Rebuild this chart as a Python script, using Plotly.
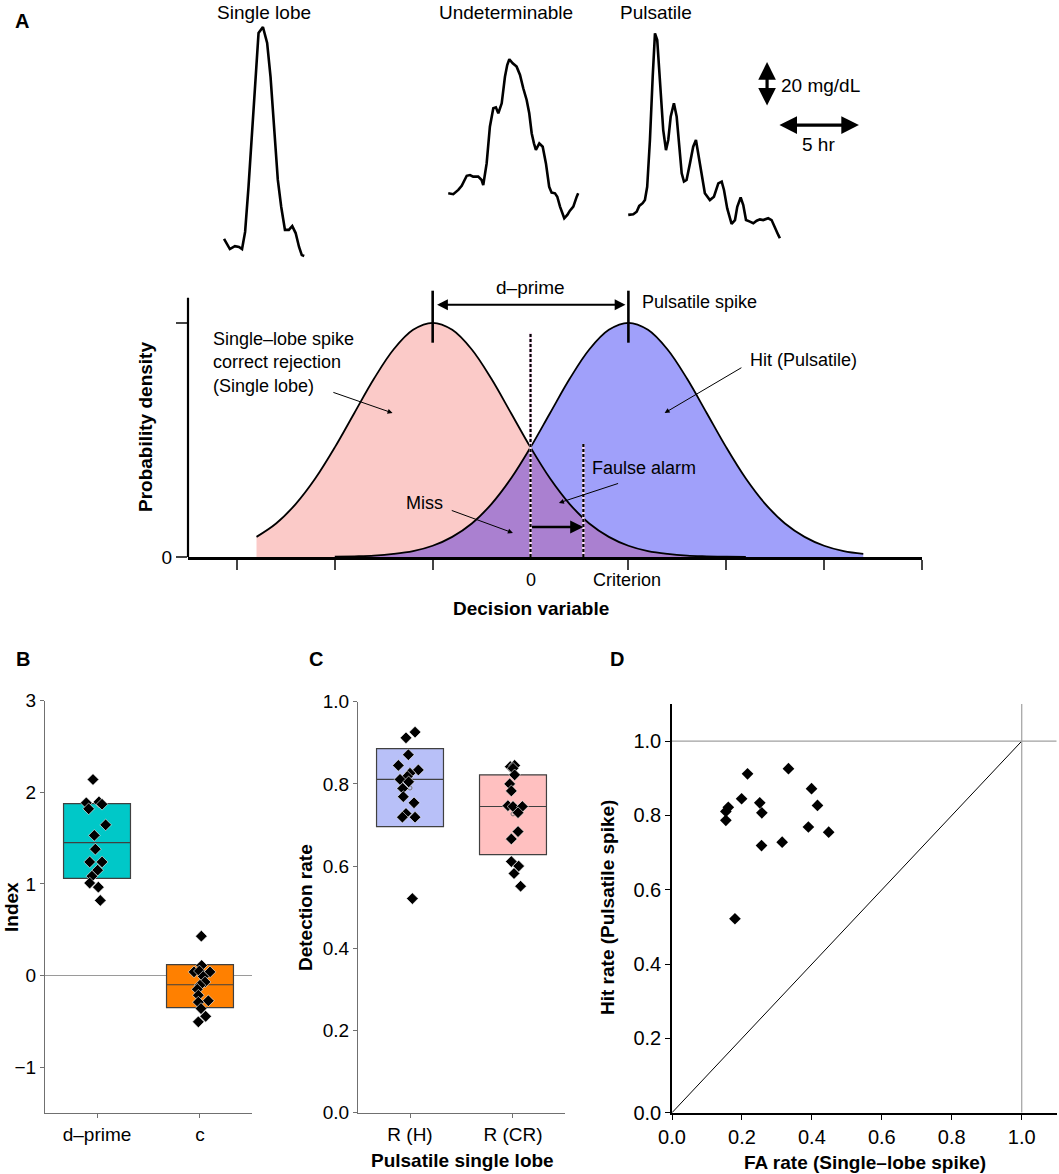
import plotly.graph_objects as go

FONT = 'Liberation Sans, Arial, sans-serif'
W, H = 1059, 1174

# ---- panel A (top): example glucose traces, hours from trace start / mg/dL above trace minimum
single_t = [0, 0.36, 0.67, 0.92, 1.11, 1.30, 1.51, 1.72, 1.92, 2.13, 2.40, 2.66, 2.87, 3.11, 3.32, 3.53,
            3.76, 4.00, 4.21, 4.42, 4.63, 4.80, 4.95]
single_g = [7.6, 3.1, 4.4, 4.0, 3.1, 10.7, 30.7, 54.7, 79.6, 99.1, 101.8, 94.7, 79.6, 54.7, 33.8, 21.8,
            11.6, 11.6, 13.3, 10.2, 4.0, 0.4, 0.0]
undet_t = [0, 0.31, 0.62, 0.83, 1.14, 1.34, 1.54, 1.85, 2.06, 2.16, 2.37, 2.57, 2.78, 2.94, 3.09, 3.30,
           3.50, 3.64, 3.77, 3.98, 4.22, 4.43, 4.63, 4.84, 5.00, 5.15, 5.29, 5.41, 5.62, 5.83, 6.03, 6.23,
           6.38, 6.59, 6.73, 6.90, 7.16, 7.35, 7.51, 7.72, 7.93, 8.02]
undet_g = [11.1, 10.7, 12.6, 14.4, 18.9, 19.2, 18.5, 18.5, 17.0, 14.8, 24.4, 40.7, 48.9, 49.3, 46.7, 51.1,
           62.9, 68.1, 70.7, 68.9, 67.4, 63.7, 57.8, 52.6, 46.7, 37.8, 33.3, 30.4, 33.3, 31.8, 24.4, 14.0,
           11.4, 11.1, 9.6, 5.2, 0.0, 1.5, 3.4, 5.2, 9.6, 11.1]
puls_t = [0, 0.31, 0.52, 0.68, 0.89, 1.03, 1.17, 1.34, 1.51, 1.65, 1.79, 1.96, 2.16, 2.33, 2.47, 2.62,
          2.82, 2.99, 3.15, 3.30, 3.44, 3.60, 3.81, 4.01, 4.18, 4.32, 4.53, 4.73, 5.04, 5.29, 5.56, 5.77,
          5.91, 6.11, 6.38, 6.59, 6.73, 6.94, 7.10, 7.27, 7.51, 7.72, 7.93, 8.13, 8.33, 8.64, 8.85, 9.06,
          9.26, 9.36]
puls_g = [10.4, 10.7, 11.8, 14.4, 15.6, 17.0, 22.9, 43.7, 71.8, 91.1, 88.1, 67.4, 48.1, 39.2, 43.7, 54.0,
          60.0, 54.0, 40.7, 28.9, 25.2, 25.9, 33.3, 40.7, 43.7, 37.8, 27.4, 20.0, 17.0, 18.5, 24.4, 25.2,
          21.5, 13.3, 6.4, 8.1, 14.0, 18.2, 14.8, 8.1, 7.4, 6.7, 7.8, 8.4, 8.1, 8.9, 8.1, 4.4,
          1.5, 0.0]
trace_titles = ['Single lobe', 'Undeterminable', 'Pulsatile']

# ---- panel A (bottom): signal detection schematic (relative density)
sl_x = [-2.8, -2.6, -2.4, -2.2, -2.0, -1.8, -1.6, -1.4, -1.2, -1.0, -0.8, -0.6, -0.4, -0.2, 0.0,
        0.2, 0.4, 0.6, 0.8, 1.0, 1.2, 1.4, 1.6, 1.8, 2.0, 2.2]
sl_dens = [0.086, 0.143, 0.226, 0.335, 0.468, 0.615, 0.761, 0.886, 0.970, 1.000, 0.970, 0.886, 0.761,
           0.615, 0.468, 0.335, 0.226, 0.143, 0.086, 0.048, 0.025, 0.013, 0.006, 0.003, 0.001, 0.000]
pu_x = [-2.0, -1.8, -1.6, -1.4, -1.2, -1.0, -0.8, -0.6, -0.4, -0.2, 0.0, 0.2, 0.4, 0.6, 0.8, 1.0,
        1.2, 1.4, 1.6, 1.8, 2.0, 2.2, 2.4, 2.6, 2.8, 3.0, 3.2, 3.4]
pu_dens = [0.001, 0.003, 0.006, 0.013, 0.025, 0.048, 0.086, 0.143, 0.226, 0.335, 0.468, 0.615, 0.761,
           0.886, 0.970, 1.000, 0.970, 0.886, 0.761, 0.615, 0.468, 0.335, 0.226, 0.143, 0.086, 0.048,
           0.025, 0.013]
means = [-1.0, 1.0]
criterion = 0.54

# ---- panel B
b_labels = ['d–prime', 'c']
b_q1 = [1.06, -0.35]
b_med = [1.45, -0.10]
b_q3 = [1.876, 0.12]
dprime = [2.14, 1.885, 1.82, 1.895, 1.87, 1.645, 1.53, 1.38, 1.24, 1.24, 1.15, 1.085, 1.01, 0.965, 0.82]
dprime_jit = [-0.039, -0.104, -0.081, 0.019, 0.049, 0.084, -0.026, -0.016, -0.071, 0.049, 0.006,
              -0.049, -0.071, 0.013, 0.032]
c_vals = [0.43, 0.11, 0.04, 0.05, 0.04, -0.01, -0.07, -0.105, -0.15, -0.215, -0.275, -0.29, -0.36,
          -0.445, -0.505]
c_jit = [0.013, 0.016, -0.058, -0.006, 0.097, 0.032, 0.049, 0.0, -0.026, -0.016, 0.081, -0.016, 0.010,
         0.055, -0.016]

# ---- panel C
c_labels = ['R (H)', 'R (CR)']
c_q1 = [0.696, 0.628]
c_med = [0.811, 0.745]
c_q3 = [0.886, 0.822]
c_mean = [0.79, 0.727]
rh = [0.926, 0.912, 0.871, 0.845, 0.834, 0.826, 0.818, 0.811, 0.805, 0.789, 0.769, 0.754, 0.728, 0.719,
      0.719, 0.521]
rh_jit = [0.049, -0.039, -0.016, -0.113, 0.081, 0.0, -0.026, -0.097, -0.013, -0.071, -0.065, 0.039,
          -0.039, -0.074, 0.049, 0.023]
rcr = [0.842, 0.845, 0.838, 0.822, 0.800, 0.783, 0.747, 0.745, 0.745, 0.730, 0.684, 0.666, 0.611, 0.600,
       0.582, 0.551]
rcr_jit = [-0.026, 0.016, 0.0, 0.016, -0.032, -0.016, -0.049, 0.0, 0.091, 0.049, 0.049, -0.016, -0.016,
           0.055, 0.010, 0.074]

# ---- panel D
fa_rate = [0.154, 0.161, 0.154, 0.199, 0.216, 0.251, 0.257, 0.256, 0.315, 0.333, 0.399, 0.416, 0.390,
           0.448, 0.180]
hit_rate = [0.811, 0.822, 0.787, 0.845, 0.912, 0.834, 0.807, 0.719, 0.728, 0.926, 0.872, 0.827, 0.769,
            0.755, 0.522]
chance_x = [0, 1]
chance_y = [0, 1]

# colours
PINK, BLUE, PURPLE = '#fbcac8', '#a0a0fa', '#aa80d0'
CYAN, ORANGE = '#00c8c8', '#ff8000'
LBLUE, LPINK = '#b8c0f8', '#ffc0c0'
GREY = '#707070'


def px_x(p):
    return p / W


def px_y(p):
    return 1 - p / H


fig = go.Figure()

# top traces (axis x/y: hours, mg/dL); 16.2 px per hour, 2.25 px per mg/dL
offsets = [(13.83, 6.22), (27.67, 22.98), (38.78, 14.09)]
for (t, g), (t0, g0) in zip([(single_t, single_g), (undet_t, undet_g), (puls_t, puls_g)], offsets):
    fig.add_trace(go.Scatter(x=[v + t0 for v in t], y=[v + g0 for v in g], mode='lines',
                             line=dict(color='black', width=2.6), xaxis='x', yaxis='y'))

# decision variable panel (x2/y2)
def area(x, y, color):
    fig.add_trace(go.Scatter(x=x, y=y, mode='lines', fill='tozeroy', fillcolor=color,
                             line=dict(width=0, shape='spline', color=color), xaxis='x2', yaxis='y2'))

area(sl_x, sl_dens, PINK)
area(pu_x, pu_dens, BLUE)
i0 = pu_x.index(0.0)
area(pu_x[:i0 + 1], pu_dens[:i0 + 1], PURPLE)
j0 = sl_x.index(0.0)
area(sl_x[j0:], sl_dens[j0:], PURPLE)
for x, y in [(sl_x, sl_dens), (pu_x, pu_dens)]:
    fig.add_trace(go.Scatter(x=x, y=y, mode='lines', line=dict(color='black', width=1.8, shape='spline'),
                             xaxis='x2', yaxis='y2'))
# dashed 0 and criterion lines
for xv, top in [(0.0, 0.957), (criterion, 0.483)]:
    fig.add_trace(go.Scatter(x=[xv, xv], y=[0, top], mode='lines', line=dict(color='#f6d8f0', width=2.6),
                             xaxis='x2', yaxis='y2'))
    fig.add_trace(go.Scatter(x=[xv, xv], y=[0, top], mode='lines',
                             line=dict(color='black', width=2.2, dash='3px,2px'), xaxis='x2', yaxis='y2'))
# peak markers
for m in means:
    fig.add_trace(go.Scatter(x=[m, m], y=[0.915, 1.137], mode='lines', line=dict(color='black', width=2.6),
                             xaxis='x2', yaxis='y2'))

# panel B (x3/y3)
for i, col in enumerate([CYAN, ORANGE]):
    fig.add_trace(go.Box(x=[i + 1], q1=[b_q1[i]], median=[b_med[i]], q3=[b_q3[i]], lowerfence=[b_q1[i]],
                         upperfence=[b_q3[i]], width=0.65, whiskerwidth=0, fillcolor=col,
                         line=dict(color='#404040', width=1.2), boxpoints=False, xaxis='x3', yaxis='y3'))
fig.add_trace(go.Scatter(x=[1 + j for j in dprime_jit] + [2 + j for j in c_jit], y=dprime + c_vals,
                         mode='markers', marker=dict(symbol='diamond', size=9, color='black',
                                                     line=dict(color='white', width=0.6)),
                         xaxis='x3', yaxis='y3'))

# panel C (x4/y4)
for i, col in enumerate([LBLUE, LPINK]):
    fig.add_trace(go.Box(x=[i + 1], q1=[c_q1[i]], median=[c_med[i]], q3=[c_q3[i]], lowerfence=[c_q1[i]],
                         upperfence=[c_q3[i]], width=0.65, whiskerwidth=0, fillcolor=col,
                         line=dict(color='#404040', width=1.2), boxpoints=False, xaxis='x4', yaxis='y4'))
fig.add_trace(go.Scatter(x=[1, 2], y=c_mean, mode='markers',
                         marker=dict(symbol='circle-open', size=4, color='#777'), xaxis='x4', yaxis='y4'))
fig.add_trace(go.Scatter(x=[1 + j for j in rh_jit] + [2 + j for j in rcr_jit], y=rh + rcr,
                         mode='markers', marker=dict(symbol='diamond', size=9, color='black',
                                                     line=dict(color='white', width=0.6)),
                         xaxis='x4', yaxis='y4'))

# panel D (x5/y5)
fig.add_trace(go.Scatter(x=chance_x, y=chance_y, mode='lines', line=dict(color='black', width=1),
                         xaxis='x5', yaxis='y5'))
fig.add_trace(go.Scatter(x=fa_rate, y=hit_rate, mode='markers',
                         marker=dict(symbol='diamond', size=9, color='black'), xaxis='x5', yaxis='y5'))

tickfont = dict(family=FONT, size=19, color='black')
grey_axis = dict(showline=True, linecolor=GREY, linewidth=1.2, ticks='outside', ticklen=4,
                 tickcolor=GREY, showgrid=False, zeroline=False, tickfont=tickfont, automargin=False)
black_axis = dict(showline=True, linecolor='black', linewidth=1.6, ticks='outside', ticklen=5,
                  tickcolor='black', tickwidth=1.4, showgrid=False, zeroline=False,
                  tickfont=dict(tickfont, size=20), automargin=False)

fig.update_layout(
    width=W, height=H, margin=dict(l=0, r=0, t=0, b=0, autoexpand=False), showlegend=False,
    paper_bgcolor='white', plot_bgcolor='rgba(0,0,0,0)',
    font=dict(family=FONT, size=19, color='black'),
    xaxis=dict(domain=[0, 1], range=[0, W / 16.2], visible=False),
    yaxis=dict(domain=[px_y(270), 1], range=[0, 270 / 2.25], visible=False),
    xaxis2=dict(domain=[px_x(188), px_x(922)], range=[-3.5, 4.0], anchor='y2', showline=True,
                linecolor='black', linewidth=2.6, ticks='outside', ticklen=10, tickwidth=2.2,
                tickvals=[-3, -2, -1, 1, 2, 3, 4], showticklabels=False, showgrid=False, zeroline=False,
                automargin=False),
    yaxis2=dict(domain=[px_y(557), px_y(290)], range=[0, 1.14], anchor='x2', showline=False,
                ticks='outside', ticklen=11, tickwidth=2.2, tickvals=[0, 1], ticktext=['0', ''],
                tickfont=tickfont, showgrid=False, zeroline=False, automargin=False),
    xaxis3=dict(grey_axis, domain=[px_x(45), px_x(252)], range=[0.495, 2.505], anchor='y3',
                tickvals=[1, 2], ticktext=b_labels),
    yaxis3=dict(grey_axis, domain=[px_y(1113), px_y(700.7)], range=[-1.5, 3.0], anchor='x3',
                tickvals=[-1, 0, 1, 2, 3], zeroline=True, zerolinecolor='#9a9a9a', zerolinewidth=1),
    xaxis4=dict(grey_axis, domain=[px_x(358), px_x(565)], range=[0.495, 2.505], anchor='y4',
                tickvals=[1, 2], ticktext=c_labels),
    yaxis4=dict(grey_axis, domain=[px_y(1112.7), px_y(701.7)], range=[0, 1.0], anchor='x4',
                tickvals=[0, 0.2, 0.4, 0.6, 0.8, 1.0], tickformat='.1f'),
    xaxis5=dict(black_axis, domain=[px_x(672), px_x(1056.7)], range=[0, 1.1], anchor='y5',
                tickvals=[0, 0.2, 0.4, 0.6, 0.8, 1.0], tickformat='.1f'),
    yaxis5=dict(black_axis, domain=[px_y(1112.7), px_y(704)], range=[0, 1.1], anchor='x5',
                tickvals=[0, 0.2, 0.4, 0.6, 0.8, 1.0], tickformat='.1f'),
)

# y-axis line of decision panel (stops at top of plotted density)
fig.add_shape(type='line', xref='paper', yref='y2', x0=px_x(188), x1=px_x(188), y0=0, y1=1.107,
              line=dict(color='black', width=2.2))
# reference lines in D
fig.add_shape(type='line', xref='x5', yref='y5', x0=1, x1=1, y0=0, y1=1.1, line=dict(color='#a0a0a0', width=1.2))
fig.add_shape(type='line', xref='x5', yref='y5', x0=0, x1=1.1, y0=1, y1=1, line=dict(color='#a0a0a0', width=1.2))

ann = []


def text(x, y, s, xref='paper', yref='paper', size=19, bold=False, xanchor='center', angle=0, align='left'):
    ann.append(dict(x=x, y=y, xref=xref, yref=yref, text=f'<b>{s}</b>' if bold else s, showarrow=False,
                    xanchor=xanchor, yanchor='middle', textangle=angle, align=align,
                    font=dict(family=FONT, size=size, color='black')))


def arrow(x, y, ax, ay, xref, yref, width=1, head=2, size=1, side='end', standoff=0):
    ann.append(dict(x=x, y=y, ax=ax, ay=ay, xref=xref, yref=yref, axref=xref, ayref=yref, text='',
                    showarrow=True, arrowhead=head, arrowsize=size, arrowwidth=width, arrowside=side,
                    arrowcolor='black', standoff=standoff, startstandoff=standoff))


# panel letters
text(px_x(22), px_y(21), 'A', size=20, bold=True)
text(px_x(23), px_y(659), 'B', size=20, bold=True)
text(px_x(316), px_y(659), 'C', size=20, bold=True)
text(px_x(617), px_y(659), 'D', size=20, bold=True)

# top trace titles and scale bars
for name, cx in zip(trace_titles, [263.7, 506, 656]):
    text(px_x(cx), px_y(12), name, size=19)
arrow(47.35, 92.4, 47.35, 72.4, 'x', 'y', width=3.2, head=2, size=1.1, side='end+start')
arrow(53.02, 64.4, 48.02, 64.4, 'x', 'y', width=3.2, head=2, size=1.1, side='end+start')
text(48.1, 82.2, '20 mg/dL', xref='x', yref='y', xanchor='left')
text(50.5, 56.0, '5 hr', xref='x', yref='y')

# decision panel labels
text(0, px_y(288), 'd–prime', xref='x2')
arrow(0.97, 1.077, -0.97, 1.077, 'x2', 'y2', width=1.8, head=2, size=1.2, side='end+start')
text(1.12, 1.09, 'Pulsatile spike', xref='x2', yref='y2', xanchor='left', size=18)
text(-3.26, 0.829, 'Single–lobe spike<br>correct rejection<br>(Single lobe)', xref='x2', yref='y2',
     xanchor='left', size=18)
arrow(-1.41, 0.615, -2.03, 0.705, 'x2', 'y2')
text(2.22, 0.842, 'Hit (Pulsatile)', xref='x2', yref='y2', xanchor='left', size=18)
arrow(1.37, 0.615, 2.17, 0.812, 'x2', 'y2')
text(0.61, 0.380, 'Faulse alarm', xref='x2', yref='y2', xanchor='left', size=18)
arrow(0.29, 0.231, 0.91, 0.316, 'x2', 'y2')
text(-1.29, 0.231, 'Miss', xref='x2', yref='y2', xanchor='left', size=18)
arrow(-0.18, 0.103, -0.82, 0.201, 'x2', 'y2')
arrow(criterion, 0.128, 0.0, 0.128, 'x2', 'y2', width=2.4, head=2, size=1.1)
text(0, px_y(580), '0', xref='x2', size=18)
text(0.99, px_y(580), 'Criterion', xref='x2', size=18)
text(0, px_y(608), 'Decision variable', xref='x2', bold=True)
text(px_x(145), px_y(427), 'Probability density', bold=True, angle=-90)

# axis titles of B, C, D
text(px_x(11), px_y(907), 'Index', bold=True, angle=-90)
text(px_x(305), px_y(908), 'Detection rate', bold=True, angle=-90)
text(px_x(462), px_y(1160), 'Pulsatile single lobe', bold=True)
text(px_x(607), px_y(908), 'Hit rate (Pulsatile spike)', bold=True, angle=-90)
text(px_x(865), px_y(1162), 'FA rate (Single–lobe spike)', bold=True)

fig.update_layout(annotations=ann)
# drop the default page margin so the figure sits at the window's top-left corner
fig.write_html('out.html', config={'displayModeBar': False},
               post_script="document.body.style.margin = '0';")
